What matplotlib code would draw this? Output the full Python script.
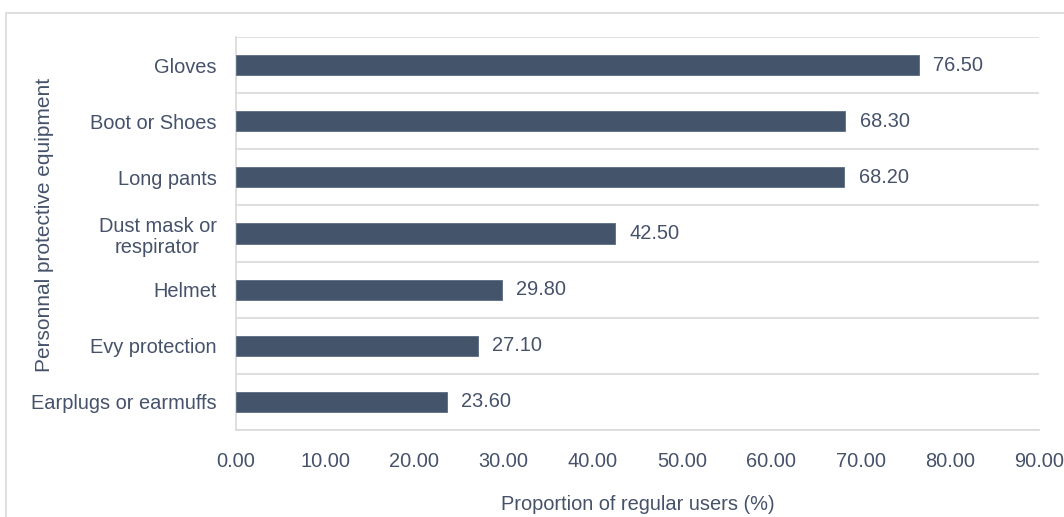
import matplotlib
matplotlib.use("Agg")
import matplotlib.pyplot as plt
from matplotlib.patches import Rectangle

categories = ["Earplugs or earmuffs", "Evy protection", "Helmet",
              "Dust mask or\nrespirator", "Long pants", "Boot or Shoes", "Gloves"]
values = [23.60, 27.10, 29.80, 42.50, 68.20, 68.30, 76.50]
xticks = [0, 10, 20, 30, 40, 50, 60, 70, 80, 90]

plt.rcParams['font.family'] = ['Liberation Sans', 'DejaVu Sans']
txt = '#46526a'
bar_c = '#44546A'
grid_c = '#d9d9d9'
fs = 14.4

fig = plt.figure(figsize=(10.64, 5.17), dpi=100)
ax = fig.add_axes([236/1064, 1-430/517, (1039-236)/1064, (430-37)/517])

ypos = list(range(len(categories)))
ax.barh(ypos, values, height=0.36, color=bar_c, edgecolor='#5b6b80', linewidth=0.6, zorder=3)
for y, v in zip(ypos, values):
    ax.text(v + 1.6, y, f"{v:.2f}", va='center', ha='left', fontsize=fs, color=txt)

ax.set_xlim(0, 90)
ax.set_ylim(-0.5, len(categories) - 0.5)
ax.set_xticks(xticks)
ax.set_xticklabels([f"{t:.2f}" for t in xticks])
ax.set_yticks(ypos)
ax.set_yticklabels(categories)
ax.set_yticks([k + 0.5 for k in range(-1, len(categories))], minor=True)
ax.grid(True, which='minor', axis='y', color=grid_c, linewidth=1.2, zorder=0)
ax.tick_params(axis='both', which='both', length=0, labelsize=fs, labelcolor=txt)
ax.tick_params(axis='x', pad=16)
ax.tick_params(axis='y', pad=14)
for lbl in ax.get_yticklabels():
    lbl.set_multialignment('center')
    lbl.set_linespacing(1.15)

for s in ['top', 'right']:
    ax.spines[s].set_visible(False)
for s in ['left', 'bottom']:
    ax.spines[s].set_color(grid_c)
    ax.spines[s].set_linewidth(1.2)

ax.set_xlabel("Proportion of regular users (%)", fontsize=fs, color=txt, labelpad=17)
fig.text(45/1064, 1-225/517, "Personnal protective equipment", rotation=90,
         fontsize=15, color=txt, ha='center', va='center')

fig.patches.append(Rectangle((6/1064, -0.1), 1.2, 1 - 13/517 + 0.1, transform=fig.transFigure,
                             fill=False, edgecolor='#d9d9d9', linewidth=1.2))

fig.savefig("out.png", dpi=100)
